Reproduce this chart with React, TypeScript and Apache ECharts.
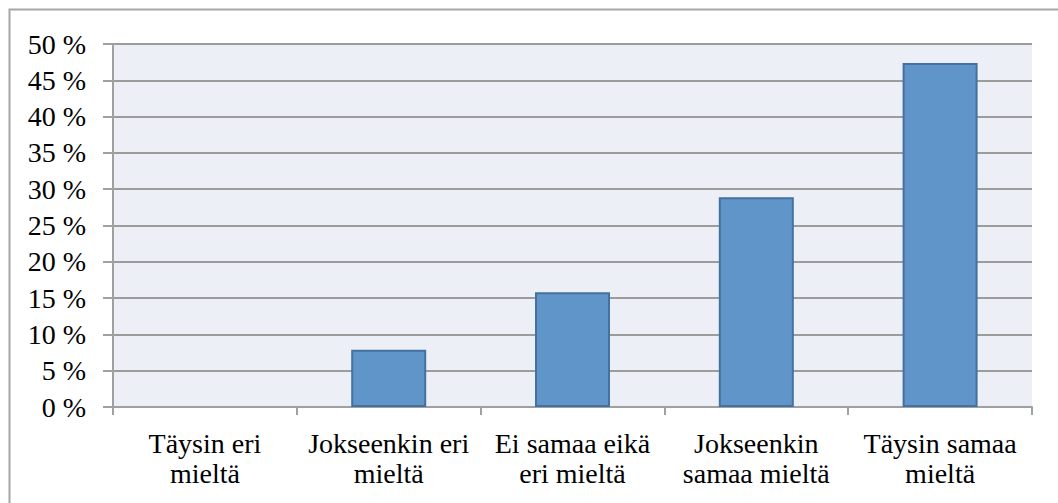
import React, { useEffect, useRef } from "react";
import * as echarts from "echarts";

const categories = [
  "Täysin eri\nmieltä",
  "Jokseenkin eri\nmieltä",
  "Ei samaa eikä\neri mieltä",
  "Jokseenkin\nsamaa mieltä",
  "Täysin samaa\nmieltä",
];
const values = [0, 7.9, 15.8, 28.9, 47.4];
const yTicks = { min: 0, max: 50, interval: 5 };

export default function App() {
  const ref = useRef<HTMLDivElement>(null);
  useEffect(() => {
    document.body.style.margin = "0";
    const chart = echarts.init(ref.current!, null, { renderer: "svg" });
    const font = "'Liberation Serif', 'Times New Roman', serif";
    chart.setOption({
      animation: false,
      backgroundColor: "#ffffff",
      textStyle: { fontFamily: font },
      grid: { left: 113, right: 26, top: 44, bottom: 96, containLabel: false },
      graphic: [
        {
          type: "rect",
          shape: { x: 9.5, y: 9.5, width: 1060, height: 510 },
          style: { fill: "none", stroke: "#a6a6a6", lineWidth: 2 },
          silent: true,
          z: -1,
        },
      ],
      xAxis: {
        type: "category",
        data: categories,
        axisLine: { show: true, lineStyle: { color: "#a0a0a0", width: 2 } },
        axisTick: { show: true, length: 8, lineStyle: { color: "#a0a0a0", width: 2 } },
        axisLabel: {
          interval: 0,
          margin: 21,
          fontFamily: font,
          fontSize: 28,
          color: "#000",
          lineHeight: 30,
          align: "center",
        },
        splitArea: { show: false },
      },
      yAxis: {
        type: "value",
        min: yTicks.min,
        max: yTicks.max,
        interval: yTicks.interval,
        axisLine: { show: true, lineStyle: { color: "#a0a0a0", width: 2 } },
        axisTick: { show: true, length: 10, lineStyle: { color: "#a0a0a0", width: 2 } },
        axisLabel: {
          formatter: (v: number) => `${v} %`,
          fontFamily: font,
          fontSize: 28,
          color: "#000",
          margin: 27,
        },
        splitLine: { show: true, lineStyle: { color: "#9c9c9c", width: 2 } },
        splitArea: { show: true, areaStyle: { color: ["#eceff5", "#eceff5"] } },
      },
      series: [
        {
          type: "bar",
          data: values.map((v) => ({
            value: v,
            itemStyle: v === 0 ? { borderWidth: 0 } : undefined,
          })),
          barWidth: 75,
          itemStyle: {
            color: "#6095ca",
            borderColor: "#44719f",
            borderWidth: 2,
          },
        },
      ],
    });
    return () => chart.dispose();
  }, []);
  return <div ref={ref} style={{ width: 1058, height: 503 }} />;
}
